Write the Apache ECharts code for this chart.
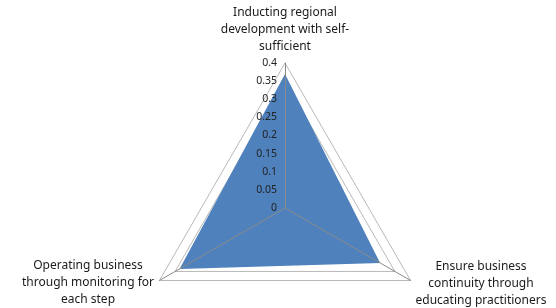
<!DOCTYPE html>
<html>
<head>
<meta charset="utf-8">
<script src="https://cdn.jsdelivr.net/npm/echarts@6/dist/echarts.min.js"></script>
<style>
  html, body { margin: 0; padding: 0; background: #fff; }
  #chart { width: 556px; height: 308px; }
</style>
</head>
<body>
<div id="chart"></div>
<script>
// indicators in ECharts order: top, then bottom-left, then bottom-right
var indicatorNames = [
    'Inducting regional\ndevelopment with self-\nsufficient',
    'Operating business\nthrough monitoring for\neach step',
    'Ensure business\ncontinuity through\neducating practitioners'
];
var seriesValues = [0.37, 0.336, 0.303];
var axisMax = 0.4;
var axisStep = 0.05;

// where each name block sits (centre of text block)
var namePos = [[285, 30], [88, 283], [481, 284]];

var font = '"Noto Sans", sans-serif';
var cx = 285, cy = 208, rad = 145;

var myChart = echarts.init(document.getElementById('chart'));

var indicators = indicatorNames.map(function (n) {
    return { name: n, min: 0, max: axisMax };
});

var option = {
    animation: false,
    radar: [
        {
            center: [cx, cy],
            radius: rad,
            shape: 'polygon',
            splitNumber: Math.round(axisMax / axisStep),
            indicator: indicators,
            axisName: { show: false },
            axisLine: { show: false },
            axisTick: { show: false },
            axisLabel: { show: false },
            splitArea: { show: false },
            splitLine: { lineStyle: { color: '#b8b8b8', width: 1 } }
        },
        {
            // overlay so the spokes are drawn on top of the filled area
            center: [cx, cy],
            radius: rad,
            shape: 'polygon',
            z: 10,
            indicator: indicators,
            axisName: { show: false },
            axisLine: { lineStyle: { color: '#8a8a8a', width: 1 } },
            axisTick: { show: false },
            axisLabel: { show: false },
            splitArea: { show: false },
            splitLine: { show: false }
        }
    ],
    // value scale along the top spoke
    grid: { left: cx, top: cy - rad, width: 1, height: rad, z: 20 },
    xAxis: { type: 'value', show: false },
    yAxis: {
        type: 'value',
        z: 20,
        min: 0,
        max: axisMax,
        interval: axisStep,
        axisLine: { show: false },
        axisTick: { show: false },
        splitLine: { show: false },
        axisLabel: { margin: 8, fontSize: 10.5, fontFamily: font, color: '#222' }
    },
    series: [
        {
            type: 'radar',
            radarIndex: 0,
            symbol: 'none',
            lineStyle: { width: 0 },
            areaStyle: { color: '#4f81bd', opacity: 1 },
            data: [{ value: seriesValues }]
        }
    ],
    graphic: indicatorNames.map(function (n, i) {
        return {
            type: 'text',
            x: namePos[i][0],
            y: namePos[i][1],
            style: {
                text: n,
                align: 'center',
                verticalAlign: 'middle',
                lineHeight: 17,
                font: '12px ' + font,
                fill: '#1a1a1a'
            }
        };
    })
};

myChart.setOption(option);
</script>
</body>
</html>
